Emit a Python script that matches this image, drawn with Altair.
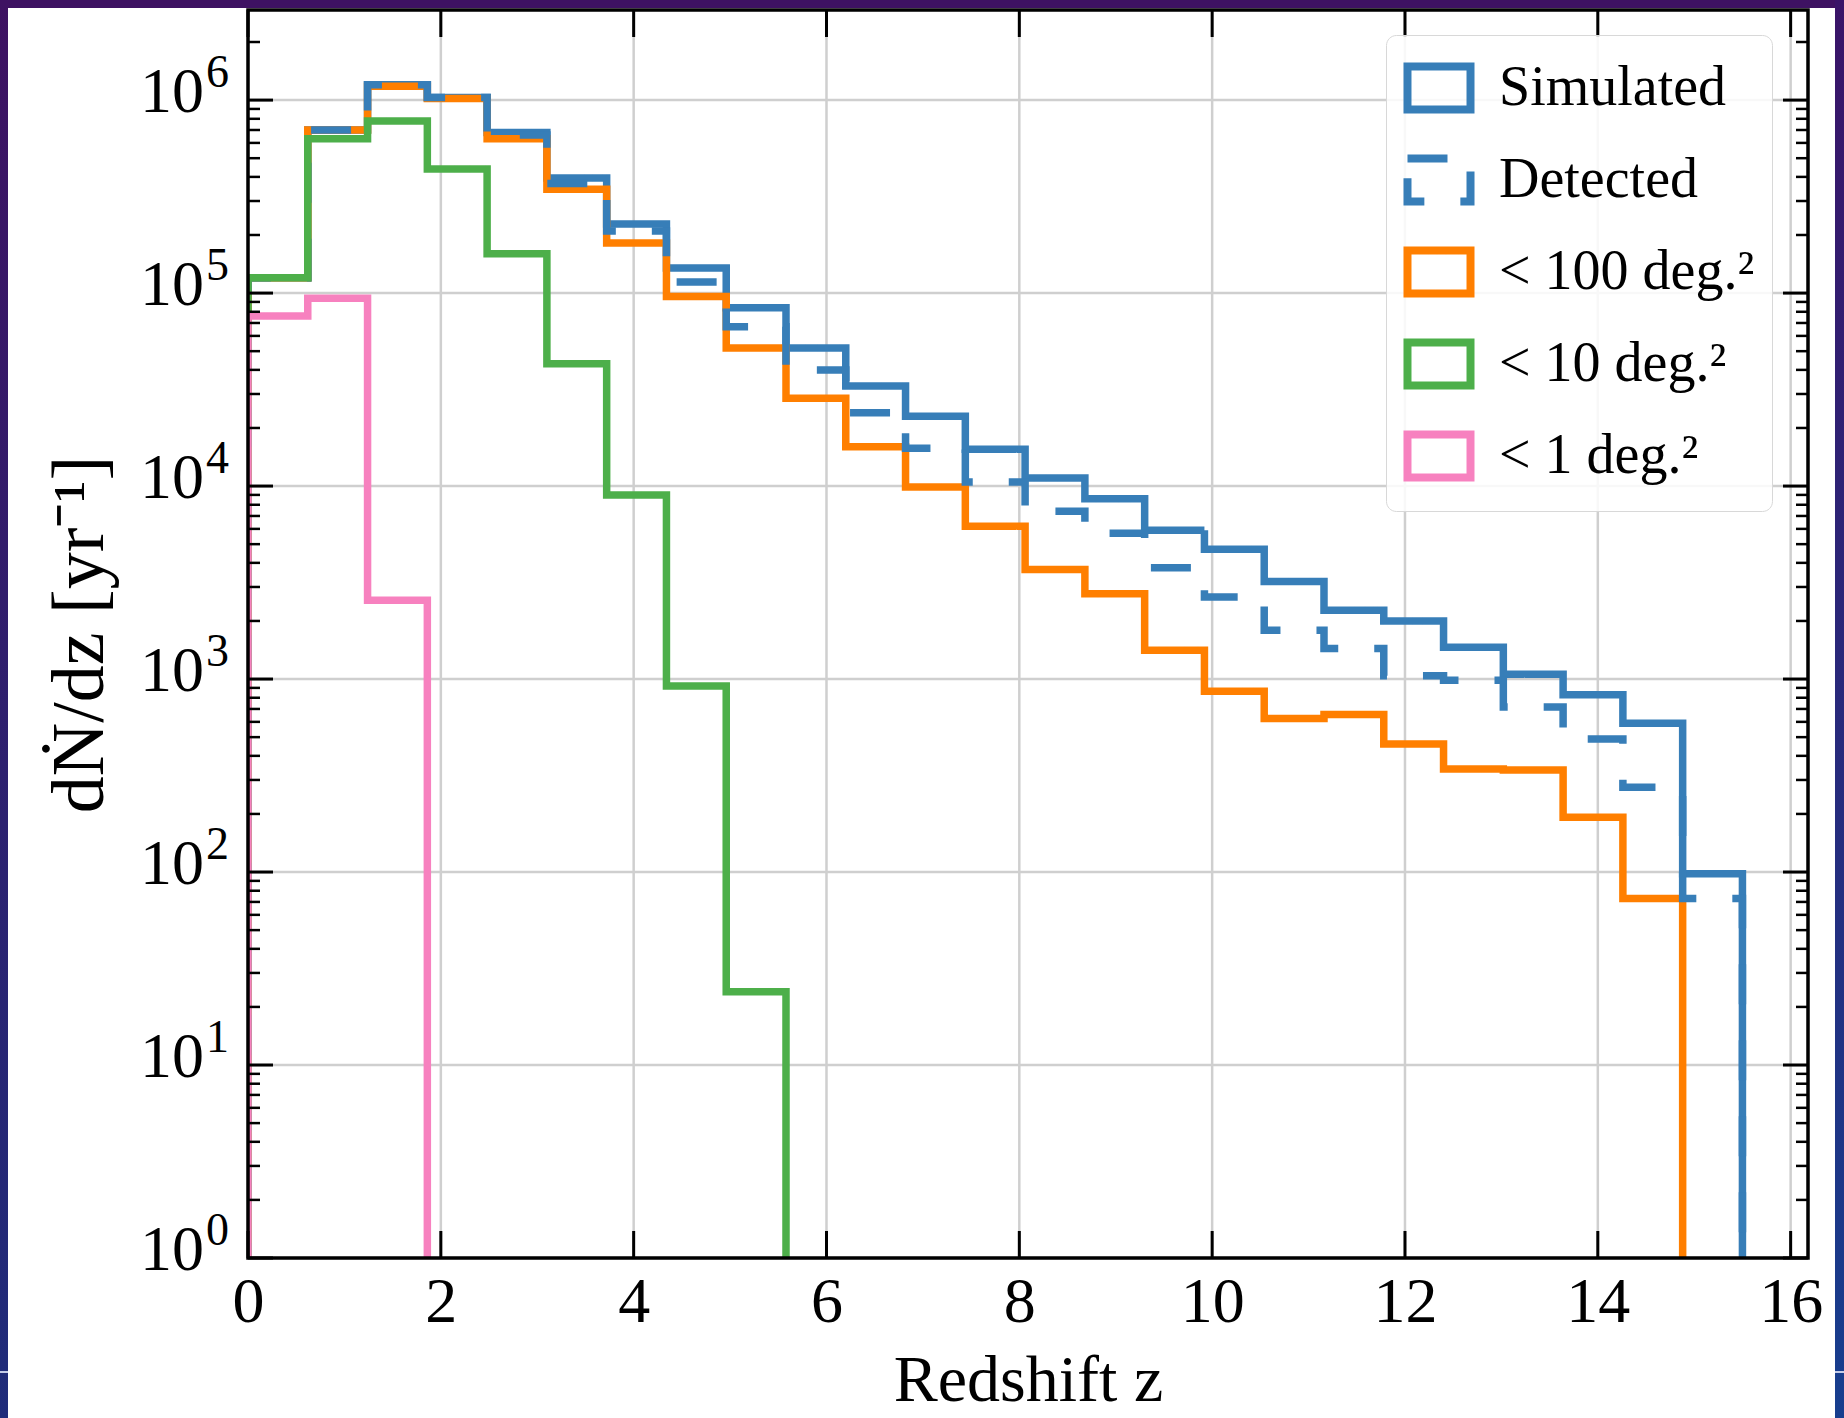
import altair as alt
import pandas as pd

# ---------------- data ----------------
BIN_EDGES = [0.0, 0.62, 1.24, 1.86, 2.48, 3.10, 3.72, 4.34, 4.96, 5.58, 6.20,
             6.82, 7.44, 8.06, 8.68, 9.30, 9.92, 10.54, 11.16, 11.78, 12.40,
             13.02, 13.64, 14.26, 14.88, 15.50]

SERIES = ["Simulated", "Detected", "< 100 deg.²", "< 10 deg.²", "< 1 deg.²"]
COLORS = ["#377eb8", "#377eb8", "#ff7f00", "#4daf4a", "#f781bf"]
DASHES = [[1, 0], [40, 36], [1, 0], [1, 0], [1, 0]]

SIMULATED = [1.2e5, 7.0e5, 1.2e6, 1.03e6, 6.8e5, 3.95e5, 2.28e5, 1.35e5, 8.4e4,
             5.2e4, 3.3e4, 2.3e4, 1.55e4, 1.1e4, 8.6e3, 5.9e3, 4.7e3, 3.2e3,
             2.27e3, 2.0e3, 1.46e3, 1.06e3, 830, 590, 98]
DETECTED = [1.2e5, 7.0e5, 1.2e6, 1.03e6, 6.6e5, 3.7e5, 2.1e5, 1.14e5, 6.7e4,
            4.0e4, 2.4e4, 1.57e4, 1.05e4, 7.4e3, 5.7e3, 3.77e3, 2.66e3, 1.79e3,
            1.44e3, 1.04e3, 986, 716, 489, 275, 73]
LT100 = [1.2e5, 7.0e5, 1.18e6, 1.02e6, 6.3e5, 3.45e5, 1.82e5, 9.6e4, 5.2e4,
         2.85e4, 1.6e4, 9.9e3, 6.2e3, 3.7e3, 2.77e3, 1.41e3, 865, 625, 655,
         461, 342, 338, 192, 73, 0]
LT10 = [1.2e5, 6.3e5, 7.8e5, 4.4e5, 1.6e5, 4.3e4, 9.0e3, 920, 24, 0, 0, 0, 0,
        0, 0, 0, 0, 0, 0, 0, 0, 0, 0, 0, 0]
LT1 = [7.6e4, 9.4e4, 2.56e3, 0, 0, 0, 0, 0, 0, 0, 0, 0, 0, 0, 0, 0, 0, 0, 0,
       0, 0, 0, 0, 0, 0]

X_TICKS = [0, 2, 4, 6, 8, 10, 12, 14, 16]
Y_EXPONENTS = [0, 1, 2, 3, 4, 5, 6]
X_MAX = 16.18
Y_MAX = 2.93e6

# ---------------- layout ----------------
W, H = 1560, 1248
PAD = {"left": 248, "top": 10, "right": 36, "bottom": 160}
FLOOR = 0.3  # empty bins fall below the axis (clipped), as in a log histogram
FONT = "Liberation Serif"

def step_rows(name, vals):
    n = len(vals)
    while n > 0 and vals[n - 1] == 0:
        n -= 1
    pts = [(BIN_EDGES[0], FLOOR)]
    for i in range(n):
        pts.append((BIN_EDGES[i], vals[i]))
        pts.append((BIN_EDGES[i + 1], vals[i]))
    pts.append((BIN_EDGES[n], FLOOR))
    return [{"series": name, "z": z, "rate": r, "order": k}
            for k, (z, r) in enumerate(pts)]

rows = []
for name, vals in zip(SERIES, [SIMULATED, DETECTED, LT100, LT10, LT1]):
    rows += step_rows(name, vals)
lines_df = pd.DataFrame(rows)

xscale = alt.Scale(domain=[0, X_MAX], nice=False, zero=False)
yscale = alt.Scale(type="log", domain=[1, Y_MAX], nice=False)

legend = alt.Legend(
    orient="none", legendX=1138, legendY=25, title=None,
    symbolType="M-1,-0.68H1V0.68H-1Z", symbolSize=3970, symbolStrokeWidth=8,
    symbolFillColor="transparent",
    labelFont=FONT, labelFontSize=56, labelColor="black", labelOffset=24,
    labelLimit=600, padding=17, rowPadding=16,
    strokeColor="#d8d8d8", fillColor="rgba(255,255,255,0.85)", cornerRadius=10,
)

color_enc = alt.Color("series:N", scale=alt.Scale(domain=SERIES, range=COLORS), legend=legend)
dash_enc = alt.StrokeDash("series:N", scale=alt.Scale(domain=SERIES, range=DASHES), legend=legend)

x_axis = alt.Axis(values=X_TICKS, title="Redshift z", grid=False, ticks=False, tickSize=0,
                  domain=False, labelFont=FONT, labelFontSize=64, labelColor="black",
                  labelPadding=12, labelFlush=False, labelOverlap=False,
                  titleFont=FONT, titleFontSize=66, titleFontWeight="normal",
                  titleColor="black", titleX=W / 2, titleY=90, titleBaseline="top",
                  titleAlign="center")
y_axis = alt.Axis(values=[10 ** e for e in Y_EXPONENTS], labels=False, ticks=False,
                  tickSize=0, domain=False, grid=False, title="dṄ/dz [yr⁻¹]",
                  titleFont=FONT, titleFontSize=74, titleFontWeight="normal",
                  titleColor="black", titleAngle=270, titleX=-168, titleY=H / 2,
                  titleBaseline="middle", titleAlign="center")

XE = dict(scale=xscale, axis=x_axis)
YE = dict(scale=yscale, axis=y_axis)

def series_layer(name):
    return alt.Chart(lines_df).transform_filter(alt.datum.series == name).mark_line(
        clip=True, strokeWidth=7.5, strokeCap="butt", strokeJoin="miter",
        interpolate="linear"
    ).encode(
        x=alt.X("z:Q", **XE),
        y=alt.Y("rate:Q", **YE),
        color=color_enc,
        strokeDash=dash_enc,
        order=alt.Order("order:Q"),
    )

# ---------------- grid ----------------
xgrid = alt.Chart(pd.DataFrame({"v": X_TICKS[1:]})).mark_rule(
    color="#cfcfcf", strokeWidth=2.5).encode(x=alt.X("v:Q", **XE))
ygrid = alt.Chart(pd.DataFrame({"v": [10 ** e for e in Y_EXPONENTS[1:]]})).mark_rule(
    color="#cfcfcf", strokeWidth=2.5).encode(y=alt.Y("v:Q", **YE))

# ---------------- inward ticks ----------------
y_major = [10 ** e for e in Y_EXPONENTS]
y_minor = [m * 10 ** e for e in Y_EXPONENTS for m in range(2, 10) if m * 10 ** e <= Y_MAX]
ymaj_df = pd.DataFrame({"v": y_major})
ymin_df = pd.DataFrame({"v": y_minor})
xt_df = pd.DataFrame({"v": X_TICKS})

def yticks(df, length, width):
    left = alt.Chart(df).mark_rule(color="black", strokeWidth=width).encode(
        y=alt.Y("v:Q", **YE), x=alt.value(0), x2=alt.value(length))
    right = alt.Chart(df).mark_rule(color="black", strokeWidth=width).encode(
        y=alt.Y("v:Q", **YE), x=alt.value(W - length), x2=alt.value(W))
    return [left, right]

xt_bottom = alt.Chart(xt_df).mark_rule(color="black", strokeWidth=3).encode(
    x=alt.X("v:Q", **XE), y=alt.value(H - 27), y2=alt.value(H))
xt_top = alt.Chart(xt_df).mark_rule(color="black", strokeWidth=3).encode(
    x=alt.X("v:Q", **XE), y=alt.value(0), y2=alt.value(27))

# ---------------- y tick labels 10^n ----------------
ylab_df = pd.DataFrame({"v": y_major, "base": ["10"] * len(y_major),
                        "exp": [str(e) for e in Y_EXPONENTS]})
ylab_base = alt.Chart(ylab_df).mark_text(
    align="right", baseline="middle", font=FONT, fontSize=64, color="black", dy=-7
).encode(y=alt.Y("v:Q", **YE), x=alt.value(-44), text="base:N")
ylab_exp = alt.Chart(ylab_df).mark_text(
    align="right", baseline="middle", font=FONT, fontSize=46, color="black", dy=-27
).encode(y=alt.Y("v:Q", **YE), x=alt.value(-19), text="exp:N")

# ---------------- frame (spines) ----------------
frame = alt.Chart(pd.DataFrame({"k": [0]})).mark_rect(
    fill=None, stroke="black", strokeWidth=3.5, clip=False
).encode(x=alt.value(0), x2=alt.value(W), y=alt.value(0), y2=alt.value(H))

# ---------------- page frame decoration ----------------
one = pd.DataFrame({"k": [0]})
grad_left = {"gradient": "linear", "x1": 0, "y1": 0, "x2": 0, "y2": 1,
             "stops": [{"offset": 0, "color": "#3e1262"}, {"offset": 1, "color": "#1f2c7a"}]}
grad_right = {"gradient": "linear", "x1": 0, "y1": 0, "x2": 0, "y2": 1,
              "stops": [{"offset": 0, "color": "#3a1468"}, {"offset": 1, "color": "#173e8e"}]}
top_strip = alt.Chart(one).mark_rect(fill="#3e1262", clip=False).encode(
    x=alt.value(-PAD["left"]), x2=alt.value(W + PAD["right"]), y=alt.value(-PAD["top"]), y2=alt.value(-2))
left_strip = alt.Chart(one).mark_rect(fill=grad_left, clip=False).encode(
    x=alt.value(-PAD["left"]), x2=alt.value(-PAD["left"] + 8), y=alt.value(-PAD["top"]),
    y2=alt.value(H + PAD["bottom"]))
right_strip = alt.Chart(one).mark_rect(fill=grad_right, clip=False).encode(
    x=alt.value(1587), x2=alt.value(W + PAD["right"]), y=alt.value(-PAD["top"]),
    y2=alt.value(H + PAD["bottom"]))
line_l = alt.Chart(one).mark_rect(fill="#c4cce8", clip=False).encode(
    x=alt.value(-PAD["left"]), x2=alt.value(-PAD["left"] + 8), y=alt.value(1361), y2=alt.value(1363))
line_r = alt.Chart(one).mark_rect(fill="#c4cce8", clip=False).encode(
    x=alt.value(1587), x2=alt.value(W + PAD["right"]), y=alt.value(1361), y2=alt.value(1363))

layers = [top_strip, left_strip, right_strip, line_l, line_r, xgrid, ygrid,
          series_layer("Simulated"),
          series_layer("< 100 deg.²"),
          series_layer("Detected"),
          series_layer("< 10 deg.²"),
          series_layer("< 1 deg.²")]
layers += yticks(ymaj_df, 25, 3) + yticks(ymin_df, 12, 2.5)
layers += [xt_bottom, xt_top, frame, ylab_base, ylab_exp]

chart = alt.layer(*layers).properties(
    width=W, height=H, padding=PAD, autosize=alt.AutoSizeParams(type="none"),
    background="white",
).configure(font=FONT).configure_view(stroke=None)

chart.save("out.html", embed_options={"renderer": "svg", "actions": False})
